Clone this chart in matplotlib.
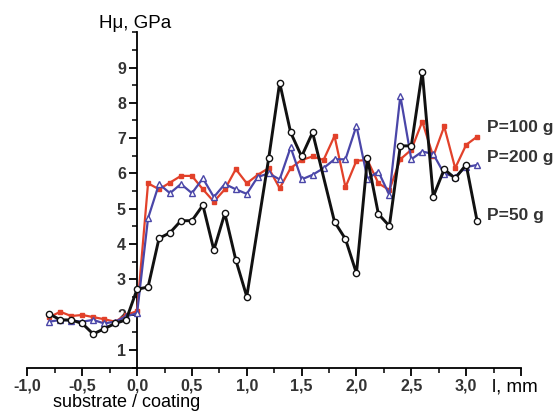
import matplotlib
matplotlib.use("Agg")
import matplotlib.pyplot as plt
from matplotlib.ticker import MultipleLocator, FixedLocator, FuncFormatter

plt.rcParams["font.family"] = ["Liberation Sans", "DejaVu Sans"]
plt.rcParams["font.weight"] = "bold"  # tick labels are bold in the original

# P = 50 g (black, open circles)
x_50 = [-0.8, -0.7, -0.6, -0.5, -0.4, -0.3, -0.2, -0.1, 0.0, 0.1, 0.2, 0.3, 0.4,
        0.5, 0.6, 0.7, 0.8, 0.9, 1.0, 1.2, 1.3, 1.4, 1.5, 1.6, 1.8, 1.9, 2.0,
        2.1, 2.2, 2.3, 2.4, 2.5, 2.6, 2.7, 2.8, 2.9, 3.0, 3.1]
h_50 = [2.02, 1.85, 1.85, 1.75, 1.45, 1.6, 1.75, 1.85, 2.72, 2.78, 4.16, 4.32, 4.66,
        4.66, 5.1, 3.83, 4.87, 3.55, 2.51, 6.43, 8.57, 7.16, 6.48, 7.16, 4.63, 4.14, 3.17,
        6.43, 4.85, 4.51, 6.78, 6.78, 8.88, 5.34, 6.12, 5.86, 6.25, 4.65]

# P = 100 g (red, squares)
x_100 = [-0.8, -0.7, -0.6, -0.5, -0.4, -0.3, -0.2, -0.1, 0.0, 0.1, 0.2, 0.3, 0.4,
         0.5, 0.6, 0.7, 0.8, 0.9, 1.0, 1.1, 1.2, 1.3, 1.4, 1.5, 1.6, 1.7, 1.8,
         1.9, 2.0, 2.1, 2.2, 2.3, 2.4, 2.5, 2.6, 2.7, 2.8, 2.9, 3.0, 3.1]
h_100 = [1.93, 2.08, 1.96, 1.99, 1.93, 1.87, 1.8, 1.99, 2.1, 5.72, 5.55, 5.74, 5.93,
         5.93, 5.55, 5.2, 5.55, 6.12, 5.72, 5.96, 6.15, 5.58, 6.15, 6.38, 6.48, 6.38, 7.06,
         5.61, 6.36, 6.38, 5.72, 5.53, 6.4, 6.67, 7.47, 6.48, 7.33, 6.15, 6.81, 7.04]

# P = 200 g (blue, open triangles)
x_200 = x_100
h_200 = [1.8, 1.85, 1.83, 1.8, 1.85, 1.75, 1.8, 1.95, 2.04, 4.73, 5.7, 5.44, 5.7,
         5.44, 5.86, 5.33, 5.7, 5.55, 5.42, 5.9, 6.0, 5.83, 6.74, 5.83, 5.96, 6.15, 6.4,
         6.4, 7.35, 5.85, 6.05, 5.39, 8.2, 6.4, 6.62, 6.55, 5.99, 5.91, 6.18, 6.24]

labels = ["P=100 g", "P=200 g", "P=50 g"]
label_y = [7.3, 6.45, 4.8]

fig = plt.figure(figsize=(5.59, 4.13), dpi=100)
ax = fig.add_axes([0.049, 0.110, 0.883, 0.812])

ax.plot(x_100, h_100, color="#e2412a", lw=1.6, marker="s", ms=3.2,
        mfc="#e2412a", mec="#e2412a", zorder=3)
ax.plot(x_200, h_200, color="#4a46a8", lw=1.6, marker="^", ms=4.5,
        mfc="white", mec="#4a46a8", mew=1.0, zorder=3)
ax.plot(x_50, h_50, color="#111111", lw=2.1, marker="o", ms=4.5,
        mfc="white", mec="#111111", mew=1.0, zorder=4)

ax.set_xlim(-1.0, 3.5)
ax.set_ylim(0.5, 10.0)

ax.spines["top"].set_visible(False)
ax.spines["right"].set_visible(False)
ax.spines["left"].set_position(("data", 0.0))
for s in ("left", "bottom"):
    ax.spines[s].set_linewidth(1.3)

ax.xaxis.set_major_locator(MultipleLocator(0.5))
ax.xaxis.set_minor_locator(MultipleLocator(0.25))
ax.yaxis.set_major_locator(FixedLocator([1, 2, 3, 4, 5, 6, 7, 8, 9]))
ax.yaxis.set_minor_locator(MultipleLocator(0.5))


def xfmt(v, pos):
    if v > 3.2:
        return ""
    return f"{v:.1f}".replace(".", ",").replace("-0,0", "0,0")


ax.xaxis.set_major_formatter(FuncFormatter(xfmt))
ax.tick_params(axis="both", which="major", length=6, width=1.3, direction="out",
               labelsize=11.5, pad=2.0, labelcolor="#333333")
ax.tick_params(axis="both", which="minor", length=3.5, width=1.1, direction="out")

fig.text(0.177, 0.942, "Hμ, GPa", fontsize=13.5, fontweight="normal", ha="left", va="center")
fig.text(0.881, 0.063, "l, mm", fontsize=13.5, fontweight="normal", ha="left", va="center")
fig.text(0.226, 0.047, "substrate / coating", fontsize=13, fontweight="normal",
         ha="center", va="top")

for t, yv in zip(labels, label_y):
    ax.text(3.19, yv, t, fontsize=12.5, fontweight="bold", ha="left", va="center",
            color="#333333")

fig.savefig("out.png", dpi=100, facecolor="white")
